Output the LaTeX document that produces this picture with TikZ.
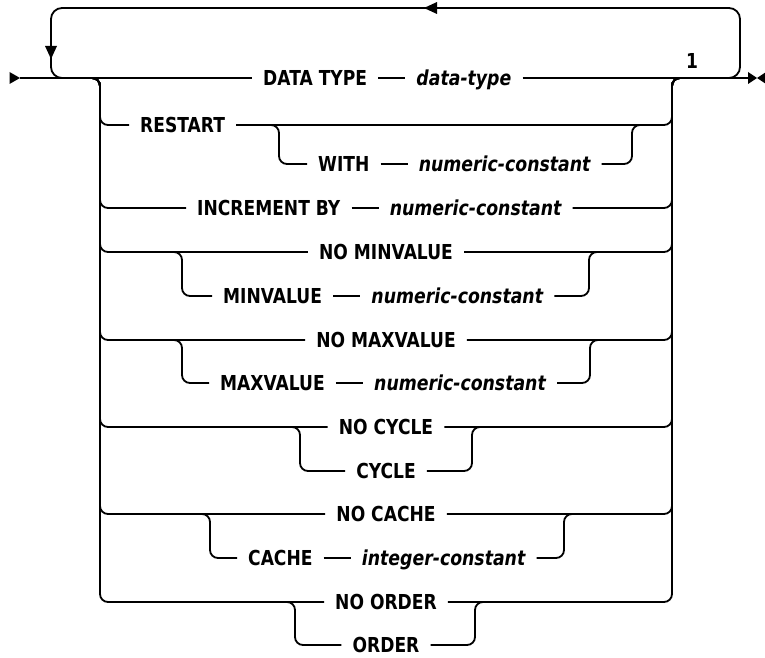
\documentclass[tikz,border=0pt]{standalone}
\usepackage{fontspec}
\setmainfont{DejaVu Sans}
\newfontfamily\kwfont{DejaVu Sans}[FakeStretch=0.83]
\newfontfamily\varfont{DejaVu Sans}[FakeStretch=0.84]
\usetikzlibrary{arrows.meta,positioning}
\tikzset{
  ln/.style={line width=1.8pt},
  rr/.style={ln, rounded corners=8pt},
  kw/.style={font=\fontsize{20.6}{22}\kwfont\bfseries, inner xsep=11pt, inner ysep=0pt, text height=16pt, text depth=0.8pt},
  var/.style={kw, font=\fontsize{20.6}{22}\varfont\bfseries\itshape},
  tip/.style={fill=black},
}
\begin{document}
\begin{tikzpicture}[x=1pt,y=-1pt]
\fill[white] (0,0) rectangle (765,658);
\useasboundingbox (0,0) rectangle (765,658);

% markers
\coordinate (start) at (20,78);
\coordinate (endm) at (748,78);
\fill[tip] (9.5,72) -- (start) -- (9.5,84) -- cycle;
\fill[tip] (748,72) -- (757,78) -- (748,84) -- cycle;
\fill[tip] (766,72) -- (757,78) -- (766,84) -- cycle;

% repeat loop
\draw[ln, rounded corners=11pt] (720,78) -| (740,8) -- (51,8) |- (75,78);
\fill[tip] (45,46) -- (57,46) -- (51,59) -- cycle;
\fill[tip] (437,2) -- (437,14) -- (424,8) -- cycle;

% footnote
\node[font=\fontsize{20.6}{22}\kwfont\bfseries, inner sep=0pt] (one) at (692,61) {1};

% row: DATA TYPE
\node[kw, anchor=west] (dt) at (252,78) {DATA TYPE};
\node[var, right=27pt of dt] (dtv) {data-type};
\draw[ln] (start) -- (dt.west);
\draw[ln] (dt.east) -- (dtv.west);
\draw[ln] (dtv.east) -- (endm);

% row: RESTART [WITH numeric-constant]
\node[kw, anchor=west] (rs) at (129,125) {RESTART};
\draw[rr] (90,78) -| (100,125) -- (rs.west);
\draw[rr] (rs.east) -| (672,78) -- (684,78);
\node[kw, anchor=west] (wi) at (307,164) {WITH};
\node[var, right=27pt of wi] (wiv) {numeric-constant};
\coordinate (wiL) at (271,125);
\coordinate (wiR) at (640,125);
\draw[rr] (wiL) -| (279,164) -- (wi.west);
\draw[ln] (wi.east) -- (wiv.west);
\draw[rr] (wiv.east) -| (632,125) -- (wiR);

% row: INCREMENT BY
\node[kw, anchor=west] (inc) at (186,208) {INCREMENT BY};
\node[var, right=27pt of inc] (incv) {numeric-constant};
\draw[rr] (90,78) -| (100,208) -- (inc.west);
\draw[ln] (inc.east) -- (incv.west);
\draw[rr] (incv.east) -| (672,78) -- (684,78);

% rows: NO MINVALUE / MINVALUE
\node[kw] (nmin) at (386,252) {NO MINVALUE};
\draw[rr] (90,78) -| (100,252) -- (nmin.west);
\draw[rr] (nmin.east) -| (672,78) -- (684,78);
\node[kw, anchor=west] (min) at (212,296) {MINVALUE};
\node[var, right=27pt of min] (minv) {numeric-constant};
\draw[rr] (174,252) -| (182,296) -- (min.west);
\draw[ln] (min.east) -- (minv.west);
\draw[rr] (minv.east) -| (589,252) -- (597,252);

% rows: NO MAXVALUE / MAXVALUE
\node[kw] (nmax) at (386,340) {NO MAXVALUE};
\draw[rr] (90,78) -| (100,340) -- (nmax.west);
\draw[rr] (nmax.east) -| (672,78) -- (684,78);
\node[kw, anchor=west] (max) at (209,383) {MAXVALUE};
\node[var, right=27pt of max] (maxv) {numeric-constant};
\draw[rr] (174,340) -| (182,383) -- (max.west);
\draw[ln] (max.east) -- (maxv.west);
\draw[rr] (maxv.east) -| (590,340) -- (598,340);

% rows: NO CYCLE / CYCLE
\node[kw] (ncyc) at (386,427) {NO CYCLE};
\draw[rr] (90,78) -| (100,427) -- (ncyc.west);
\draw[rr] (ncyc.east) -| (672,78) -- (684,78);
\node[kw] (cyc) at (386,471) {CYCLE};
\draw[rr] (292,427) -| (300,471) -- (cyc.west);
\draw[rr] (cyc.east) -| (472,427) -- (480,427);

% rows: NO CACHE / CACHE integer-constant
\node[kw] (ncac) at (386,514) {NO CACHE};
\draw[rr] (90,78) -| (100,514) -- (ncac.west);
\draw[rr] (ncac.east) -| (672,78) -- (684,78);
\node[kw, anchor=west] (cac) at (237,558) {CACHE};
\node[var, right=27pt of cac] (cacv) {integer-constant};
\draw[rr] (202,514) -| (210,558) -- (cac.west);
\draw[ln] (cac.east) -- (cacv.west);
\draw[rr] (cacv.east) -| (564,514) -- (572,514);

% rows: NO ORDER / ORDER
\node[kw] (nord) at (386,602) {NO ORDER};
\draw[rr] (90,78) -| (100,602) -- (nord.west);
\draw[rr] (nord.east) -| (672,78) -- (684,78);
\node[kw] (ord) at (386,645) {ORDER};
\draw[rr] (287,602) -| (295,645) -- (ord.west);
\draw[rr] (ord.east) -| (475,602) -- (483,602);
\end{tikzpicture}
\end{document}
